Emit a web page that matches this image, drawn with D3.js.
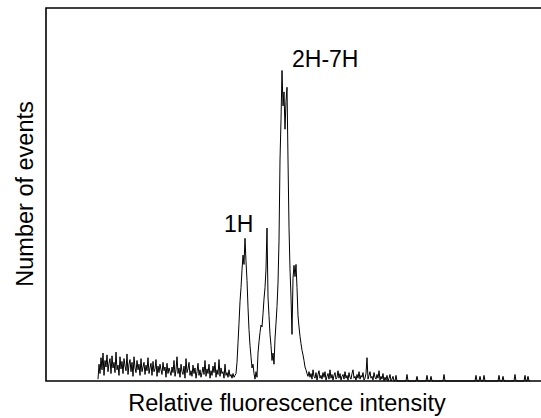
<!DOCTYPE html>
<html>
<head>
<meta charset="utf-8">
<script src="https://cdn.jsdelivr.net/npm/d3@7"></script>
<style>
  body { margin: 0; background: #fff; }
  text { font-family: "Liberation Sans", Arial, sans-serif; }
</style>
</head>
<body>
<svg width="541" height="418"></svg>
<script>
// histogram: first channel with data, then counts per channel
const firstChannel = 52;
const counts = [
  // low background
  2, 18, 8, 25, 12, 30, 6, 22, 15, 28, 10, 19, 24, 8, 27, 14, 20, 9, 31, 12,
  17, 6, 26, 13, 21, 8, 24, 16, 11, 29, 7, 18, 23, 10, 20, 5, 26, 14, 9, 22,
  12, 18, 6, 24, 10, 15, 20, 7, 17, 11, 25, 8, 14, 19, 6, 21, 10, 13, 23, 5,
  16, 9, 18, 12, 7, 20, 11, 15, 4, 19, 8, 14, 10,
  6, 15, 9, 22, 5, 12, 26, 8, 14, 4, 18, 10, 7, 16, 3, 24, 9, 13, 20, 6,
  11, 5, 17, 8, 14, 3, 10, 19, 6, 12, 4, 9, 15, 7, 22, 5, 13, 8, 18, 3,
  11, 6, 16, 9, 20, 4, 12, 7, 23, 5, 14, 8, 10, 3, 18, 6, 9, 4, 12, 5,
  7, 3, 8, 4, 6,
  // 1H
  8, 20, 41, 62, 85, 100, 119, 135, 125, 153,
  128, 108, 79, 55, 38, 26, 14, 18, 8, 2,
  // middle peak
  10, 4, 30, 42, 52, 60, 58, 72, 88, 100,
  120, 164, 90, 70, 50, 38, 22, 30, 18, 45,
  // 2H-7H
  62, 80, 105, 150, 237, 280, 333, 295, 310, 270,
  300, 315, 237, 165, 120, 90, 50, 110, 124, 112,
  125, 100, 70, 58, 48, 40, 33, 28, 22, 15,
  12, 8, 5,
  // tail
  10, 4, 8, 2, 12, 5, 3, 9, 1, 7, 11, 3, 6, 2, 9, 4, 10, 1, 5, 8,
  2, 12, 3, 7, 1, 6, 9, 2, 4, 11, 3, 8, 1, 5, 7, 2, 10, 3, 6, 1,
  9, 4, 2, 8, 12, 3, 5, 1, 7, 3, 10, 2, 6, 4, 9, 1, 3, 8, 25, 2,
  6, 10, 3, 5, 1, 9, 4, 2, 7, 3, 11, 1, 5, 2, 8, 0, 4, 1, 6, 0,
  3, 7, 0, 2, 5, 0, 0, 6, 0, 0,
  0, 0, 0, 0, 0, 0, 0, 0, 7, 0, 0, 0, 0, 0, 0, 0, 0, 0, 5, 0,
  0, 0, 0, 0, 0, 0, 0, 0, 6, 0, 0, 0, 5, 0, 0, 0, 0, 0, 0, 0,
  0, 0, 0, 0, 0, 7, 0, 0, 0, 0, 0, 0, 0, 0, 0, 0, 0, 0, 0, 0,
  0, 0, 0, 0, 0, 0, 0, 0, 0, 0, 0, 0, 0, 0, 0, 0, 0, 6, 0, 0,
  0, 5, 0, 0, 0, 6, 0, 0, 0, 0, 0, 0, 0, 0, 0, 0, 0, 0, 0, 0,
  6, 0, 0, 0, 5, 0, 0, 0, 0, 0, 0, 0, 0, 0, 0, 0, 7, 0, 0, 0,
  0, 0, 0, 0, 0, 0, 6, 0, 0, 5, 0, 0
];
const peakLabels = ['1H', '2H-7H'];
const xTitle = 'Relative fluorescence intensity';
const yTitle = 'Number of events';

const data = counts.map((c, i) => ({ ch: firstChannel + i, n: c }));

const svg = d3.select('svg');
const plotLeft = 46, plotTop = 8, plotBottom = 381;

const x = d3.scaleLinear()
    .domain([0, 512])
    .range([plotLeft, plotLeft + 512]);

const y = d3.scaleLinear()
    .domain([0, 400])
    .range([plotBottom, plotTop]);

const line = d3.line()
    .x(d => x(d.ch))
    .y(d => y(d.n));

svg.append('path')
    .datum(data)
    .attr('d', line)
    .attr('fill', 'none')
    .attr('stroke', '#000')
    .attr('stroke-width', 1);

// frame: left, top, bottom (right edge falls outside the picture)
svg.append('path')
    .attr('d', `M${plotLeft + 600},${plotTop}H${plotLeft}V${plotBottom}H${plotLeft + 600}`)
    .attr('fill', 'none')
    .attr('stroke', '#000')
    .attr('stroke-width', 1.6);

svg.selectAll('.peak')
    .data(peakLabels)
    .enter().append('text')
    .attr('class', 'peak')
    .attr('x', (d, i) => i === 0 ? 224 : 292)
    .attr('y', (d, i) => i === 0 ? 232 : 67)
    .attr('font-size', '23px')
    .attr('fill', '#000')
    .text(d => d);

svg.append('text')
    .attr('x', 287)
    .attr('y', 411)
    .attr('text-anchor', 'middle')
    .attr('font-size', '23.5px')
    .attr('fill', '#000')
    .text(xTitle);

svg.append('text')
    .attr('transform', 'translate(33, 194) rotate(-90)')
    .attr('text-anchor', 'middle')
    .attr('font-size', '23.5px')
    .attr('fill', '#000')
    .text(yTitle);
</script>
</body>
</html>
